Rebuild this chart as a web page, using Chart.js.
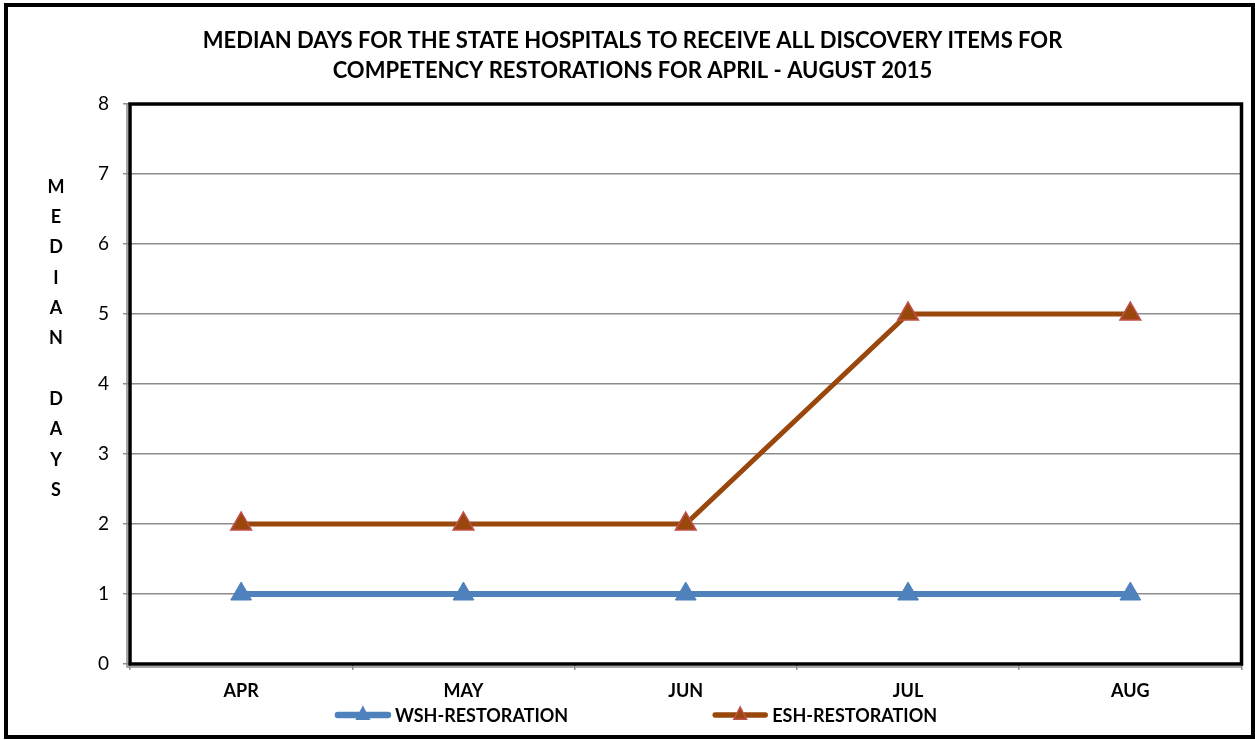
<!DOCTYPE html>
<html>
<head>
<meta charset="utf-8">
<script src="https://cdn.jsdelivr.net/npm/chart.js@4.4.0/dist/chart.umd.min.js"></script>
<style>
  html, body { margin: 0; padding: 0; background: #fff; overflow: hidden; }
  #wrap { width: 1255px; height: 740px; }
</style>
</head>
<body>
<div id="wrap"><canvas id="grafico"></canvas></div>
<script>
// dados
const meses = ['APR', 'MAY', 'JUN', 'JUL', 'AUG'];
const wshRestoration = [1, 1, 1, 1, 1];
const eshRestoration = [2, 2, 2, 5, 5];
const yTicks = [0, 1, 2, 3, 4, 5, 6, 7, 8];
const tituloLinhas = [
    'MEDIAN DAYS FOR THE STATE HOSPITALS TO RECEIVE ALL DISCOVERY ITEMS FOR',
    'COMPETENCY RESTORATIONS FOR APRIL - AUGUST 2015'
];
const yTitulo = ['M', 'E', 'D', 'I', 'A', 'N', '', 'D', 'A', 'Y', 'S'];

const FONTE = 'Lato, "Open Sans", sans-serif';
const COR_WSH = '#4F81BD';
const COR_ESH = '#9A470C';

// moldura externa, borda da area do grafico, titulo do eixo y e legenda
const molduraPlugin = {
    id: 'moldura',
    beforeDraw(chart) {
        const ctx = chart.ctx;
        ctx.save();
        ctx.fillStyle = '#fff';
        ctx.fillRect(0, 0, chart.width, chart.height);
        ctx.restore();
    },
    afterDatasetsDraw(chart) {
        const ctx = chart.ctx;
        const a = chart.chartArea;
        ctx.save();
        // borda da area
        ctx.strokeStyle = '#000';
        ctx.lineWidth = 3.5;
        ctx.strokeRect(a.left, a.top, a.right - a.left, a.bottom - a.top);
        ctx.strokeStyle = '#8c8c8c';
        ctx.lineWidth = 1.5;
        ctx.beginPath();
        ctx.moveTo(a.left - 3, a.top);
        ctx.lineTo(a.left - 3, a.bottom + 3);
        ctx.lineTo(a.right, a.bottom + 3);
        ctx.stroke();
        ctx.restore();
    },
    afterDraw(chart) {
        const ctx = chart.ctx;
        ctx.save();
        // moldura externa
        ctx.strokeStyle = '#000';
        ctx.lineWidth = 4;
        ctx.strokeRect(6, 5, 1247, 732);

        // titulo vertical do eixo y
        ctx.fillStyle = '#000';
        ctx.font = 'bold 18px ' + FONTE;
        ctx.textAlign = 'center';
        ctx.textBaseline = 'middle';
        yTitulo.forEach((l, i) => ctx.fillText(l, 56, 187 + i * 30.3));

        // legenda
        const ds = chart.data.datasets;
        const linhaW = 56, gapTxt = 4, gapItem = 144;
        const larguras = ds.map(d => linhaW + gapTxt + ctx.measureText(d.label).width);
        const total = larguras.reduce((s, w) => s + w, 0) + gapItem * (ds.length - 1);
        let x = 636 - total / 2;
        const y = 715;
        ds.forEach((d, i) => {
            ctx.strokeStyle = d.borderColor;
            ctx.lineWidth = d.borderWidth + 0.5;
            ctx.lineCap = 'round';
            ctx.beginPath();
            ctx.moveTo(x + 3, y);
            ctx.lineTo(x + linhaW - 3, y);
            ctx.stroke();
            const r = 7;
            const cx = x + linhaW / 2;
            ctx.beginPath();
            ctx.moveTo(cx, y - r - 1);
            ctx.lineTo(cx + r * 0.9, y + r * 0.6);
            ctx.lineTo(cx - r * 0.9, y + r * 0.6);
            ctx.closePath();
            ctx.fillStyle = d.pointBackgroundColor;
            ctx.fill();
            ctx.lineWidth = 1.5;
            ctx.strokeStyle = d.pointBorderColor;
            ctx.stroke();
            ctx.fillStyle = '#000';
            ctx.textAlign = 'left';
            ctx.fillText(d.label, x + linhaW + gapTxt, y + 1);
            x += larguras[i] + gapItem;
        });
        ctx.restore();
    }
};

new Chart(document.getElementById('grafico'), {
    type: 'line',
    data: {
        labels: meses,
        datasets: [
            {
                label: 'WSH-RESTORATION',
                data: wshRestoration,
                borderColor: COR_WSH,
                borderWidth: 6,
                pointStyle: 'triangle',
                pointRadius: 12,
                pointHoverRadius: 12,
                pointBackgroundColor: COR_WSH,
                pointBorderColor: COR_WSH,
                pointBorderWidth: 1,
                tension: 0
            },
            {
                label: 'ESH-RESTORATION',
                data: eshRestoration,
                borderColor: COR_ESH,
                borderWidth: 5,
                pointStyle: 'triangle',
                pointRadius: 12,
                pointHoverRadius: 12,
                pointBackgroundColor: COR_ESH,
                pointBorderColor: '#C0504D',
                pointBorderWidth: 1.5,
                tension: 0
            }
        ]
    },
    options: {
        responsive: true,
        maintainAspectRatio: false,
        animation: false,
        layout: { padding: { top: 9, left: 16, right: 6, bottom: 36 } },
        plugins: {
            legend: { display: false },
            tooltip: { enabled: false },
            title: {
                display: true,
                text: tituloLinhas,
                color: '#000',
                font: { family: FONTE, size: 22, weight: 'bold', lineHeight: 1.364 },
                padding: { top: 17, bottom: 18 }
            }
        },
        scales: {
            x: {
                offset: true,
                grid: { offset: true, drawOnChartArea: false, drawTicks: true, tickLength: 6, color: '#8c8c8c', lineWidth: 1.5 },
                border: { display: false },
                ticks: { color: '#000', padding: 10, font: { family: FONTE, size: 18, weight: 'bold' } },
                afterFit: s => { s.height = 40; }
            },
            y: {
                min: 0,
                max: 8,
                afterBuildTicks: s => { s.ticks = yTicks.map(v => ({ value: v })); },
                grid: { color: '#8c8c8c', lineWidth: 1.5, tickLength: 7 },
                border: { display: false },
                ticks: { color: '#000', padding: 14, font: { family: FONTE, size: 19 } },
                afterFit: s => { s.width = 114; }
            }
        }
    },
    plugins: [molduraPlugin]
});
</script>
</body>
</html>
